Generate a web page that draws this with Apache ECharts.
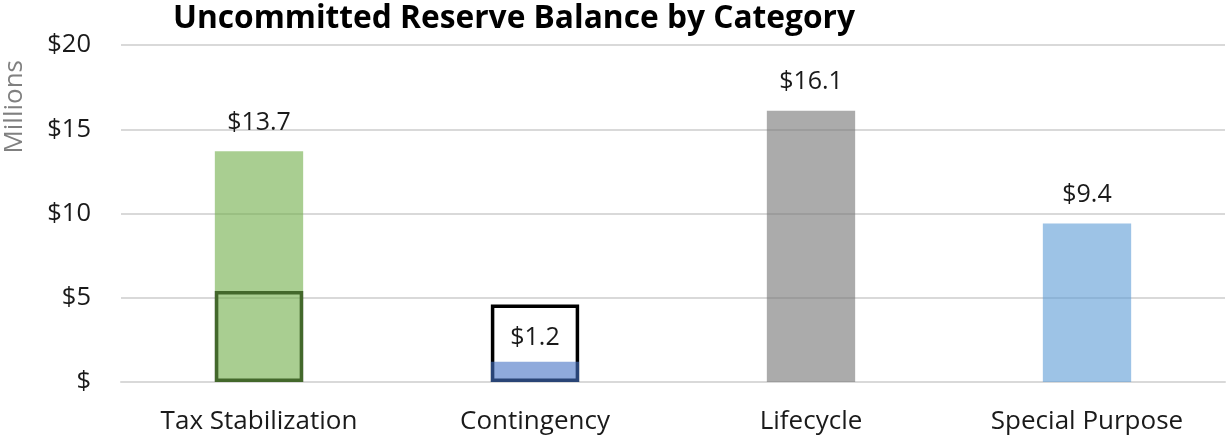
<!DOCTYPE html>
<html>
<head>
<meta charset="utf-8">
<script src="https://cdn.jsdelivr.net/npm/echarts@6/dist/echarts.min.js"></script>
<style>
  html, body { margin: 0; padding: 0; background: #fff; }
  #chart { width: 1229px; height: 438px; }
</style>
</head>
<body>
<div id="chart"></div>
<script>
// reserve balances, millions
var categories = ['Tax Stabilization', 'Contingency', 'Lifecycle', 'Special Purpose'];
var balances = [13.7, 1.2, 16.1, 9.4];
// outlined target boxes (no fill)
var targets = [5.4, 4.6, null, null];
var barColors = ['rgba(112,173,71,0.6)', 'rgba(68,114,196,0.6)', 'rgba(115,115,115,0.6)', 'rgba(91,155,213,0.6)'];
var yTicks = [0, 5, 10, 15, 20];

var font = '"Open Sans", sans-serif';
var chart = echarts.init(document.getElementById('chart'));

var option = {
    animation: false,
    title: {
        text: 'Uncommitted Reserve Balance by Category',
        left: 168,
        top: -2,
        textStyle: { fontFamily: font, fontWeight: 'bold', fontSize: 31.7, color: '#000' }
    },
    graphic: [{
        type: 'text',
        left: 2,
        top: 60,
        rotation: Math.PI / 2,
        style: { text: 'Millions', font: '26px ' + font, fill: '#808080' }
    }],
    grid: { left: 121, right: 4, top: 45, bottom: 56 },
    xAxis: {
        type: 'category',
        data: categories,
        axisLine: { lineStyle: { color: '#d9d9d9', width: 2 } },
        axisTick: { show: false },
        axisLabel: { fontFamily: font, fontSize: 26, color: '#1a1a1a', margin: 27 }
    },
    yAxis: {
        type: 'value',
        min: yTicks[0],
        max: yTicks[yTicks.length - 1],
        interval: 5,
        axisLine: { show: false },
        axisTick: { show: false },
        splitLine: { lineStyle: { color: '#d9d9d9', width: 2 } },
        axisLabel: {
            fontFamily: font, fontSize: 25.5, color: '#1a1a1a', margin: 30,
            formatter: function (v) { return v === 0 ? '$' : '$' + v; }
        }
    },
    series: [
        {
            name: 'Target',
            type: 'bar',
            barWidth: '32%',
            data: targets,
            itemStyle: { color: 'rgba(0,0,0,0)', borderColor: '#000', borderWidth: 3.5 },
            silent: true
        },
        {
            name: 'Balance',
            type: 'bar',
            barWidth: '32%',
            barGap: '-100%',
            data: balances.map(function (v, i) {
                var d = { value: v, itemStyle: { color: barColors[i] } };
                if (i === 1) d.label = { distance: 11 };
                return d;
            }),
            label: {
                show: true,
                position: 'top',
                distance: 16,
                fontFamily: font,
                fontSize: 25,
                color: '#1a1a1a',
                formatter: function (p) { return '$' + p.value.toFixed(1); }
            }
        }
    ]
};

chart.setOption(option);
</script>
</body>
</html>
